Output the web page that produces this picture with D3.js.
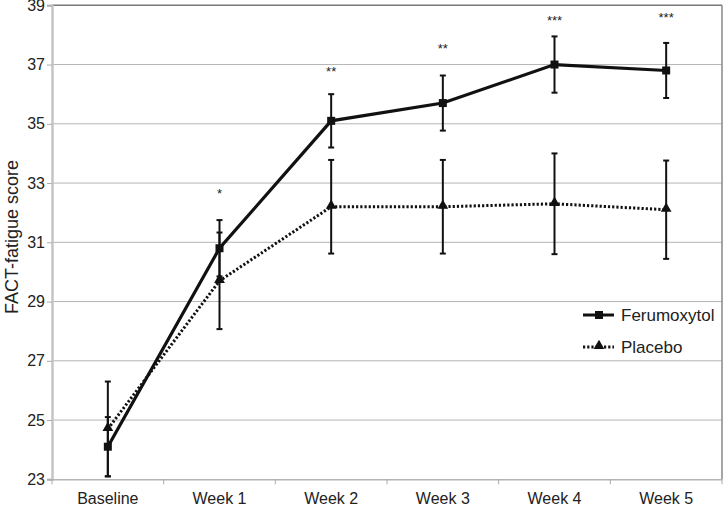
<!DOCTYPE html>
<html><head><meta charset="utf-8">
<script src="https://cdn.jsdelivr.net/npm/d3@7"></script>
<style>body{margin:0;background:#fff;} text{font-family:"Liberation Sans",Arial,sans-serif;}</style>
</head><body><svg id="c" width="725" height="505"></svg>
<script>
const categories = ["Baseline","Week 1","Week 2","Week 3","Week 4","Week 5"];
const ferumoxytol = [24.1, 30.8, 35.1, 35.7, 37.0, 36.8];
const ferumoxytolErr = [1.0, 0.95, 0.9, 0.93, 0.95, 0.93];
const placebo = [24.7, 29.7, 32.2, 32.2, 32.3, 32.1];
const placeboErr = [1.6, 1.63, 1.58, 1.58, 1.7, 1.66];
const stars = ["", "*", "**", "**", "***", "***"];
const starY = [null, 32.5, 36.6, 37.4, 38.35, 38.45];
const yTicks = [23,25,27,29,31,33,35,37,39];

const FONT = "Liberation Sans, Arial, sans-serif";
const svg = d3.select("#c");
const L=52, R=722, T=5.3, B=479.3;
const x = d3.scaleBand().domain(categories).range([L,R]);
const y = d3.scaleLinear().domain([23,39]).range([B,T]);
const cx = c => x(c)+x.bandwidth()/2;

// gridlines
svg.append("g").selectAll("line").data(yTicks.filter(t=>t>23)).join("line")
  .attr("x1",L).attr("x2",R).attr("y1",d=>y(d)).attr("y2",d=>y(d))
  .attr("stroke",d=>d===39?"#777":"#b4b4b4").attr("stroke-width",d=>d===39?1.5:1);
// right border
svg.append("line").attr("x1",R).attr("x2",R).attr("y1",T).attr("y2",B).attr("stroke","#888").attr("stroke-width",1.5);

// y axis
const ya = svg.append("g").attr("transform",`translate(${L},0)`)
  .call(d3.axisLeft(y).tickValues(yTicks).tickSize(5).tickPadding(2));
ya.select(".domain").attr("stroke","#c4c4c4").attr("stroke-width",2.5);
ya.selectAll(".tick line").attr("stroke","#aaa");
ya.selectAll(".tick text").attr("font-size",16).attr("fill","#222").attr("font-family",FONT);

// x axis
const xa = svg.append("g").attr("transform",`translate(0,${B})`)
  .call(d3.axisBottom(x).tickSize(0).tickPadding(13));
xa.select(".domain").attr("stroke","#b4b4b4").attr("stroke-width",1.5);
xa.selectAll(".tick text").attr("font-size",16).attr("fill","#222").attr("font-family",FONT);
svg.append("g").selectAll("line").data(d3.range(categories.length+1)).join("line")
  .attr("x1",i=>L+i*x.step()).attr("x2",i=>L+i*x.step()).attr("y1",B).attr("y2",B+5)
  .attr("stroke","#aaa");

// y label
svg.append("text").attr("transform",`translate(17.5,237) rotate(-90)`)
  .attr("text-anchor","middle").attr("font-size",18).attr("fill","#222").text("FACT-fatigue score");

// error bars
function errs(vals, e){
  const g = svg.append("g").attr("stroke","#111").attr("stroke-width",2);
  categories.forEach((c,i)=>{
    const X=cx(c), y1=y(vals[i]+e[i]), y2=y(vals[i]-e[i]);
    g.append("line").attr("x1",X).attr("x2",X).attr("y1",y1).attr("y2",y2);
    g.append("line").attr("x1",X-3).attr("x2",X+3).attr("y1",y1).attr("y2",y1);
    g.append("line").attr("x1",X-3).attr("x2",X+3).attr("y1",y2).attr("y2",y2);
  });
}
errs(placebo, placeboErr);
errs(ferumoxytol, ferumoxytolErr);

const line = d3.line().x((d,i)=>cx(categories[i])).y(d=>y(d));
svg.append("path").datum(placebo).attr("d",line).attr("fill","none").attr("stroke","#111")
  .attr("stroke-width",3).attr("stroke-dasharray","2.2,2");
svg.append("path").datum(ferumoxytol).attr("d",line).attr("fill","none").attr("stroke","#111")
  .attr("stroke-width",3.2);

const tri = d3.symbol().type(d3.symbolTriangle).size(50);
svg.append("g").selectAll("path").data(placebo).join("path")
  .attr("transform",(d,i)=>`translate(${cx(categories[i])},${y(d)-1})`).attr("d",tri).attr("fill","#111");
svg.append("g").selectAll("rect").data(ferumoxytol).join("rect")
  .attr("x",(d,i)=>cx(categories[i])-4).attr("y",d=>y(d)-4).attr("width",8).attr("height",8).attr("fill","#111");

// significance stars
const sg = svg.append("g");
stars.forEach((s,i)=>{ if(!s) return;
  sg.append("text").attr("x",cx(categories[i])).attr("y",y(starY[i])).attr("text-anchor","middle")
    .attr("font-size",13).attr("fill","#222").text(s);
});

// legend
const lg = svg.append("g");
const legend = [{name:"Ferumoxytol",dash:null,sym:"sq",yy:315},{name:"Placebo",dash:"2.2,2",sym:"tri",yy:347}];
legend.forEach(l=>{
  lg.append("line").attr("x1",583).attr("x2",614).attr("y1",l.yy).attr("y2",l.yy)
    .attr("stroke","#111").attr("stroke-width",3).attr("stroke-dasharray",l.dash);
  if(l.sym==="sq") lg.append("rect").attr("x",595).attr("y",l.yy-4).attr("width",8).attr("height",8).attr("fill","#111");
  else lg.append("path").attr("transform",`translate(599,${l.yy-1})`).attr("d",tri).attr("fill","#111");
  lg.append("text").attr("x",621).attr("y",l.yy+6).attr("font-size",17).attr("fill","#222").text(l.name);
});
</script></body></html>
